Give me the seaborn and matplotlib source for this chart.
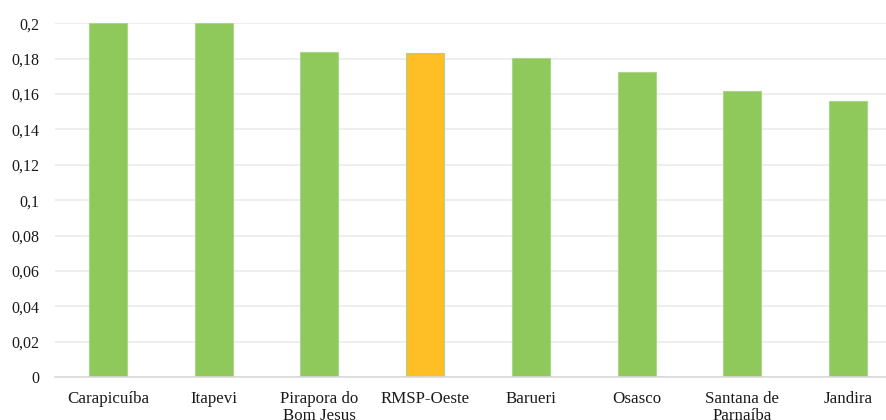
import matplotlib
matplotlib.use("Agg")
import matplotlib.pyplot as plt
import seaborn as sns
import pandas as pd
from matplotlib.ticker import FuncFormatter

categories = ["Carapicuíba", "Itapevi", "Pirapora do\nBom Jesus", "RMSP-Oeste",
              "Barueri", "Osasco", "Santana de\nParnaíba", "Jandira"]
values = [0.2, 0.2, 0.1837, 0.1832, 0.1803, 0.1724, 0.1617, 0.1562]
green = "#8fc85b"
orange = "#fdbe26"
colors = [orange if c == "RMSP-Oeste" else green for c in categories]

df = pd.DataFrame({"cat": categories, "val": values})

sns.set_theme(style="white")
plt.rcParams["font.family"] = ["Liberation Serif", "DejaVu Serif"]

fig = plt.figure(figsize=(8.86, 4.2), dpi=100)
ax = fig.add_axes([0.062, 0.1024, 0.955, 0.842])

sns.barplot(data=df, x="cat", y="val", hue="cat", palette=colors, legend=False,
            width=0.36, ax=ax, edgecolor="#a9d68a", linewidth=0.8, saturation=1)

ax.set_ylim(0, 0.2)
ax.set_yticks([i * 0.02 for i in range(11)])
def fmt(v, p):
    s = f"{v:.2f}".rstrip("0").rstrip(".")
    if s == "":
        s = "0"
    return s.replace(".", ",")
ax.yaxis.set_major_formatter(FuncFormatter(fmt))
ax.grid(axis="y", color="#ebebeb", linewidth=1.2)
ax.set_axisbelow(True)
for s in ["top", "right", "left"]:
    ax.spines[s].set_visible(False)
ax.spines["bottom"].set_color("#d9d9d9")
ax.spines["bottom"].set_linewidth(1.2)
ax.tick_params(axis="both", length=0, colors="#1a1a1a")
ax.tick_params(axis="y", pad=11, labelsize=11.5)
ax.tick_params(axis="x", pad=10, labelsize=12.2)
ax.set_xlabel("")
ax.set_ylabel("")
for lbl in ax.get_xticklabels():
    lbl.set_linespacing(1.1)

fig.savefig("out.png", dpi=100)
